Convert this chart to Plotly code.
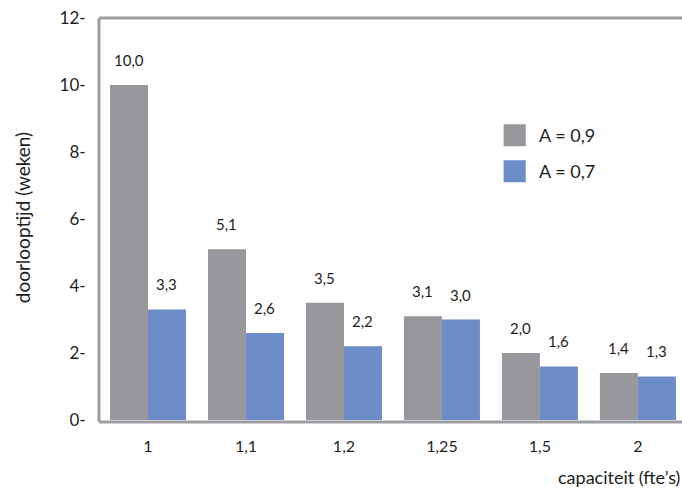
import plotly.graph_objects as go

# Doorlooptijd per capaciteit, voor twee bezettingsgraden
categories = ["1", "1,1", "1,2", "1,25", "1,5", "2"]
a09 = [10.0, 5.1, 3.5, 3.1, 2.0, 1.4]
a07 = [3.3, 2.6, 2.2, 3.0, 1.6, 1.3]
series_names = ["A = 0,9", "A = 0,7"]
y_ticks = [0, 2, 4, 6, 8, 10, 12]
y_tick_labels = [f"{t}-" for t in y_ticks]

GRAY = "#98979c"
BLUE = "#6d8dc8"
FRAME = "#9d9ca1"
TEXT = "#1e1e1e"
FONT = "Lato"


def fmt(v):
    return f"{v:.1f}".replace(".", ",")


fig = go.Figure()
fig.add_trace(go.Bar(x=categories, y=a09, name=series_names[0],
                     marker=dict(color=GRAY, line=dict(width=0)), showlegend=False))
fig.add_trace(go.Bar(x=categories, y=a07, name=series_names[1],
                     marker=dict(color=BLUE, line=dict(width=0)), showlegend=False))

annotations = []
# value labels above each bar (category axis positions are indices)
for vals, shift in ((a09, -19), (a07, 19)):
    for i, v in enumerate(vals):
        annotations.append(dict(x=i, y=v, xref="x", yref="y", text=fmt(v),
                                showarrow=False, xshift=shift, yshift=25,
                                yanchor="middle",
                                font=dict(size=15, color=TEXT, family=FONT)))

# axis titles
annotations.append(dict(x=1, y=-0.142, xref="paper", yref="paper",
                        text="capaciteit (fte\u2019s)", showarrow=False,
                        xanchor="right", yanchor="middle",
                        font=dict(size=18, color=TEXT, family=FONT)))
annotations.append(dict(x=-0.132, y=0.502, xref="paper", yref="paper",
                        text="doorlooptijd (weken)", showarrow=False, textangle=-90,
                        xanchor="center", yanchor="middle",
                        font=dict(size=19, color=TEXT, family=FONT)))

# legend entries
shapes = []
for i, (name, col) in enumerate(zip(series_names, [GRAY, BLUE])):
    y0 = 0.681 - i * 0.0895
    shapes.append(dict(type="rect", xref="paper", yref="paper",
                       x0=0.694, x1=0.732, y0=y0, y1=y0 + 0.0547,
                       fillcolor=col, line=dict(width=0)))
    annotations.append(dict(x=0.752, y=y0 + 0.027, xref="paper", yref="paper",
                            text=name, showarrow=False, xanchor="left",
                            yanchor="middle",
                            font=dict(size=18, color=TEXT, family=FONT)))

# frame: left, top and bottom lines
for x0, y0, x1, y1 in ((0, -0.005, 0, 1.0), (0, 1.0, 1.0, 1.0), (0, -0.005, 1.0, -0.005)):
    shapes.append(dict(type="line", xref="paper", yref="paper",
                       x0=x0, y0=y0, x1=x1, y1=y1, layer="below",
                       line=dict(color=FRAME, width=3)))

fig.update_layout(
    width=682, height=492,
    margin=dict(l=99, r=0, t=18, b=72),
    paper_bgcolor="white", plot_bgcolor="white",
    barmode="group", bargap=0.224, bargroupgap=0,
    font=dict(family=FONT, color=TEXT),
    annotations=annotations, shapes=shapes,
    xaxis=dict(range=[-0.5, 5.45], showgrid=False, zeroline=False, showline=False,
               ticks="outside", ticklen=12, tickcolor="rgba(0,0,0,0)",
               tickfont=dict(size=16, color=TEXT, family=FONT)),
    yaxis=dict(range=[0, 12], tickmode="array", tickvals=y_ticks,
               ticktext=y_tick_labels,
               showgrid=False, zeroline=False, showline=False,
               ticks="outside", ticklen=9, tickcolor="rgba(0,0,0,0)",
               tickfont=dict(size=17, color=TEXT, family=FONT)),
)

fig.write_html("out.html")
